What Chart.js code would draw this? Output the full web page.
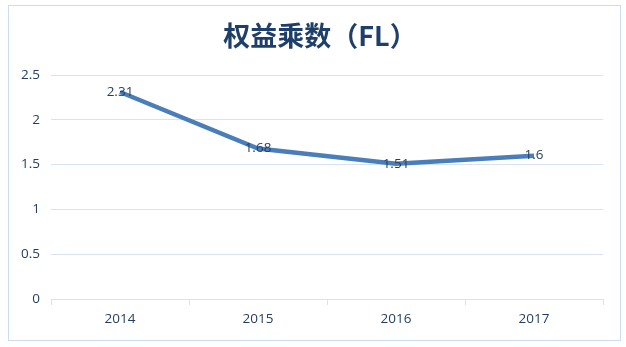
<!DOCTYPE html>
<html>
<head>
<meta charset="utf-8">
<script src="https://cdn.jsdelivr.net/npm/chart.js@4"></script>
<style>
  html, body { margin: 0; padding: 0; background: #fff; }
  #wrap { width: 626px; height: 347px; }
</style>
</head>
<body>
<div id="wrap"><canvas id="c" width="626" height="347"></canvas></div>
<script>
/* dados do gráfico */
const YEARS = ['2014', '2015', '2016', '2017'];
const FL_VALUES = [2.31, 1.68, 1.51, 1.6];
const TITLE = '权益乘数（FL）';

const TEXT = '#243f60';
const GRID = '#d9e2f0';
const LINE = '#4a7ebb';
const FONT = '"Open Sans", "Noto Sans", sans-serif';

/* moldura clara em volta do gráfico + título (centrado pela tinta, não pela caixa) */
const framePlugin = {
  id: 'frame',
  beforeDraw(chart) {
    const { ctx } = chart;
    ctx.save();
    ctx.fillStyle = '#fff';
    ctx.fillRect(0, 0, chart.width, chart.height);
    ctx.strokeStyle = '#cfdcee';
    ctx.lineWidth = 1;
    ctx.strokeRect(8.5, 5.5, 612, 335);
    ctx.font = '600 27px "Noto Sans CJK SC", sans-serif';
    ctx.fillStyle = '#1f3f6b';
    ctx.textAlign = 'center';
    ctx.textBaseline = 'middle';
    ctx.fillText(TITLE, 320, 36);
    ctx.restore();
  },
};

/* rótulos de valor centrados sobre cada ponto */
const valueLabelPlugin = {
  id: 'valueLabels',
  afterDatasetsDraw(chart) {
    const { ctx } = chart;
    const meta = chart.getDatasetMeta(0);
    ctx.save();
    ctx.font = '13.5px ' + FONT;
    ctx.fillStyle = TEXT;
    ctx.textAlign = 'center';
    ctx.textBaseline = 'middle';
    meta.data.forEach((pt, i) => {
      ctx.fillText(String(FL_VALUES[i]), pt.x, pt.y);
    });
    ctx.restore();
  },
};

new Chart(document.getElementById('c').getContext('2d'), {
  type: 'line',
  plugins: [framePlugin, valueLabelPlugin],
  data: {
    labels: YEARS,
    datasets: [{
      label: TITLE,
      data: FL_VALUES,
      borderColor: LINE,
      borderWidth: 4.5,
      pointRadius: 0,
      fill: false,
      tension: 0,
    }],
  },
  options: {
    responsive: false,
    animation: false,
    layout: { padding: { left: 8, right: 23, top: 75, bottom: 6 } },
    scales: {
      x: {
        offset: true,
        afterFit: s => { s.height = 42; },
        ticks: { color: TEXT, font: { size: 13.5, family: FONT }, padding: 6 },
        grid: { offset: true, drawOnChartArea: false, color: GRID, tickLength: 6 },
        border: { color: GRID },
      },
      y: {
        min: 0, max: 2.5,
        afterFit: s => { s.width = 43; },
        ticks: { stepSize: 0.5, callback: v => String(v), color: TEXT, font: { size: 13.5, family: FONT }, padding: 11 },
        grid: { color: GRID, drawTicks: false },
        border: { display: false },
      },
    },
    plugins: {
      legend: { display: false },
      tooltip: { enabled: false },
      title: { display: false },
    },
  },
});
</script>
</body>
</html>
